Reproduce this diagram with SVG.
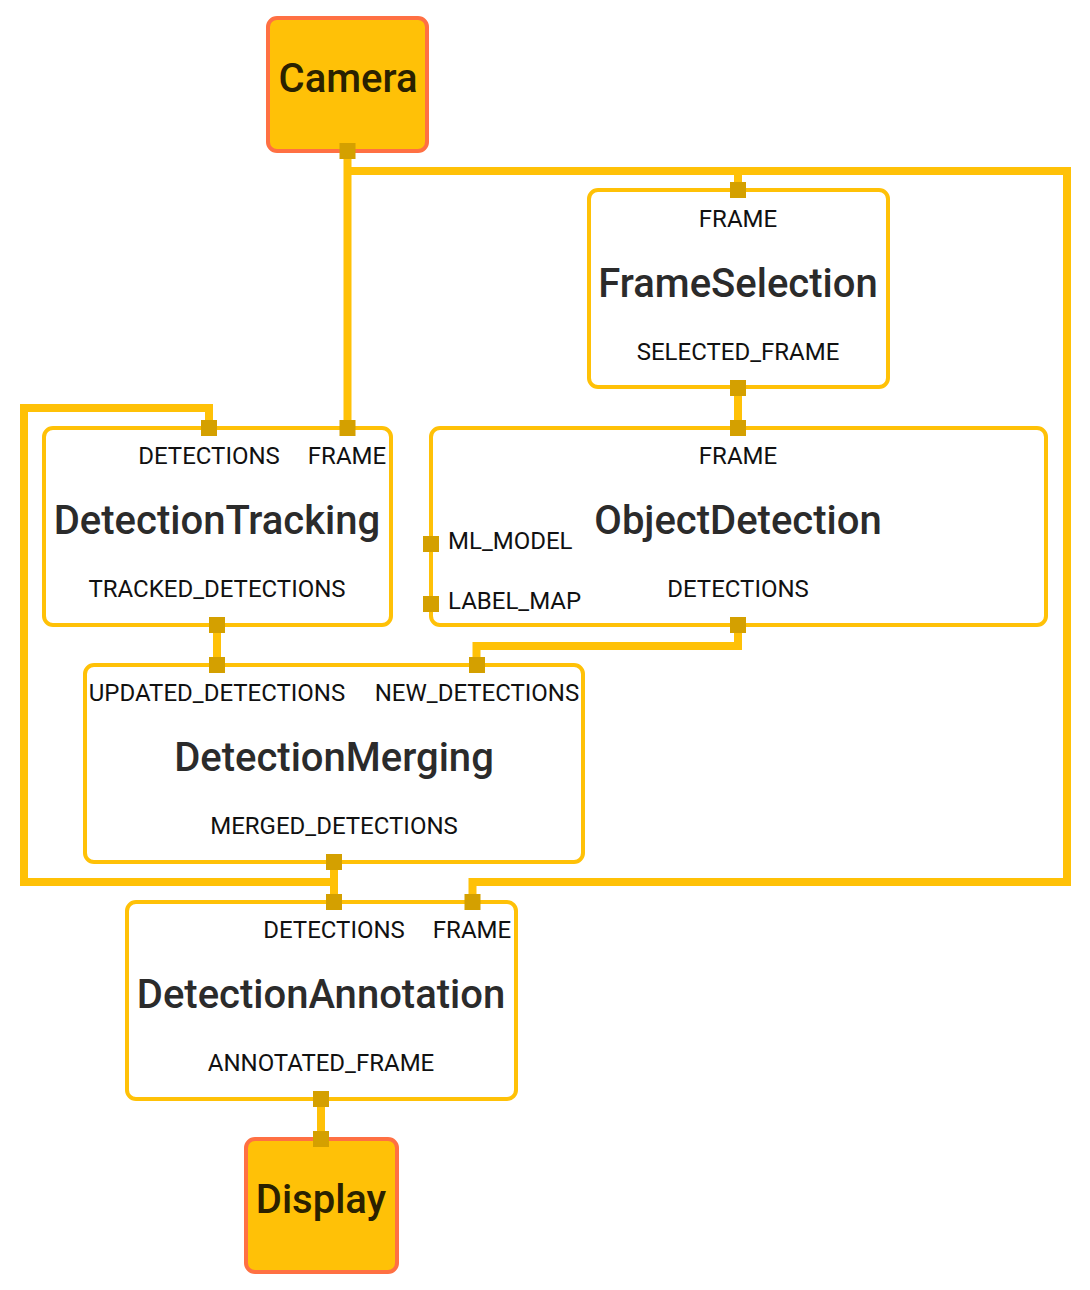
<svg xmlns="http://www.w3.org/2000/svg" width="1090" height="1290" viewBox="0 0 1090 1290">
<defs>
<style>
.node{fill:#fff;stroke:#FFC107;stroke-width:4}
.io{fill:#FFC107;stroke:#FF7043;stroke-width:4}
.port{fill:#D4A000}
.conn{fill:none;stroke:#FFC107;stroke-width:8;stroke-linejoin:miter}
.lbl{font-family:Roboto,"Liberation Sans",sans-serif;font-size:24px;fill:#111;text-anchor:middle}
.lbll{font-family:Roboto,"Liberation Sans",sans-serif;font-size:24px;fill:#111;text-anchor:start}
.title{font-family:Roboto,"Liberation Sans",sans-serif;font-size:40px;font-weight:500;fill:#2b2b2b;text-anchor:middle}
.iotitle{font-family:Roboto,"Liberation Sans",sans-serif;font-size:40px;font-weight:500;fill:#2a2100;text-anchor:middle}
</style>
</defs>
<rect width="1090" height="1290" fill="#fff"/>
<g id="connectors">
<path class="conn" d="M347.5,151 V428"/>
<path class="conn" d="M347.5,171 H1067 V882 H472.5 V902"/>
<path class="conn" d="M738,171 V190"/>
<path class="conn" d="M738,388 V428"/>
<path class="conn" d="M738,625 V646 H476.5 V665"/>
<path class="conn" d="M217,625 V665"/>
<path class="conn" d="M334,862 V902"/>
<path class="conn" d="M334,882 H24 V408 H209 V428"/>
<path class="conn" d="M321,1099 V1139"/>
</g>
<g id="Camera">
<rect class="io" x="268" y="18" width="159" height="133" rx="9"/>
<text class="iotitle" x="348" y="92">Camera</text>
<rect class="port" x="339.5" y="143" width="16" height="16"/>
</g>
<g id="FrameSelection">
<rect class="node" x="589" y="190" width="299" height="197" rx="9"/>
<text class="lbl" x="738" y="227">FRAME</text>
<text class="title" x="738" y="297">FrameSelection</text>
<text class="lbl" x="738" y="360">SELECTED_FRAME</text>
<rect class="port" x="730" y="182" width="16" height="16"/>
<rect class="port" x="730" y="380" width="16" height="16"/>
</g>
<g id="DetectionTracking">
<rect class="node" x="44" y="428" width="347" height="197" rx="9"/>
<text class="lbl" x="209" y="464">DETECTIONS</text>
<text class="lbl" x="347" y="464">FRAME</text>
<text class="title" x="217" y="534">DetectionTracking</text>
<text class="lbl" x="217" y="597">TRACKED_DETECTIONS</text>
<rect class="port" x="201" y="420" width="16" height="16"/>
<rect class="port" x="339.5" y="420" width="16" height="16"/>
<rect class="port" x="209" y="617" width="16" height="16"/>
</g>
<g id="ObjectDetection">
<rect class="node" x="431" y="428" width="615" height="197" rx="9"/>
<text class="lbl" x="738" y="464">FRAME</text>
<text class="title" x="738" y="534">ObjectDetection</text>
<text class="lbll" x="448" y="549">ML_MODEL</text>
<text class="lbll" x="448" y="609">LABEL_MAP</text>
<text class="lbl" x="738" y="597">DETECTIONS</text>
<rect class="port" x="730" y="420" width="16" height="16"/>
<rect class="port" x="423" y="536" width="16" height="16"/>
<rect class="port" x="423" y="596" width="16" height="16"/>
<rect class="port" x="730" y="617" width="16" height="16"/>
</g>
<g id="DetectionMerging">
<rect class="node" x="85" y="665" width="498" height="197" rx="9"/>
<text class="lbl" x="217" y="701">UPDATED_DETECTIONS</text>
<text class="lbl" x="477" y="701">NEW_DETECTIONS</text>
<text class="title" x="334" y="771">DetectionMerging</text>
<text class="lbl" x="334" y="834">MERGED_DETECTIONS</text>
<rect class="port" x="209" y="657" width="16" height="16"/>
<rect class="port" x="469" y="657" width="16" height="16"/>
<rect class="port" x="326" y="854" width="16" height="16"/>
</g>
<g id="DetectionAnnotation">
<rect class="node" x="127" y="902" width="389" height="197" rx="9"/>
<text class="lbl" x="334" y="938">DETECTIONS</text>
<text class="lbl" x="472" y="938">FRAME</text>
<text class="title" x="321" y="1008">DetectionAnnotation</text>
<text class="lbl" x="321" y="1071">ANNOTATED_FRAME</text>
<rect class="port" x="326" y="894" width="16" height="16"/>
<rect class="port" x="464.5" y="894" width="16" height="16"/>
<rect class="port" x="313" y="1091" width="16" height="16"/>
</g>
<g id="Display">
<rect class="io" x="246" y="1139" width="151" height="133" rx="9"/>
<text class="iotitle" x="321" y="1213">Display</text>
<rect class="port" x="313" y="1131" width="16" height="16"/>
</g>
</svg>
